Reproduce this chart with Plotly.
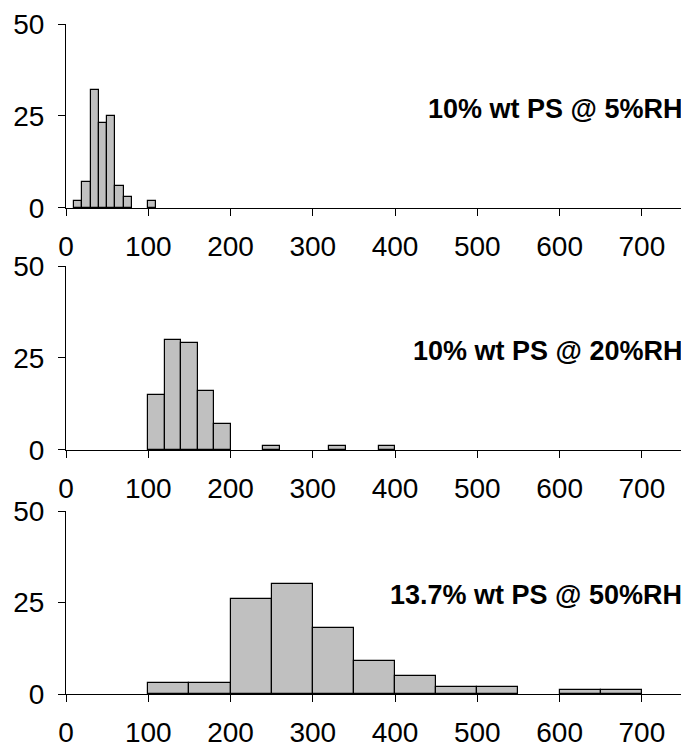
import plotly.graph_objects as go

# Panel 1: 10% wt PS @ 5%RH (bin width 10)
p1_left = [10, 20, 30, 40, 50, 60, 70, 100]
p1_count = [2, 7, 32, 23, 25, 6, 3, 2]
p1_width = 10

# Panel 2: 10% wt PS @ 20%RH (bin width 20)
p2_left = [100, 120, 140, 160, 180, 240, 320, 380]
p2_count = [15, 30, 29, 16, 7, 1, 1, 1]
p2_width = 20

# Panel 3: 13.7% wt PS @ 50%RH (bin width 50)
p3_left = [100, 150, 200, 250, 300, 350, 400, 450, 500, 600, 650]
p3_count = [3, 3, 26, 30, 18, 9, 5, 2, 2, 1, 1]
p3_width = 50

labels = ["10% wt PS @ 5%RH", "10% wt PS @ 20%RH", "13.7% wt PS @ 50%RH"]
x_ticks = [0, 100, 200, 300, 400, 500, 600, 700]
y_ticks = [0, 25, 50]

FONT = "Liberation Sans, Arial, sans-serif"

fig = go.Figure()
panels = [(p1_left, p1_count, p1_width), (p2_left, p2_count, p2_width), (p3_left, p3_count, p3_width)]
for i, (lefts, counts, w) in enumerate(panels):
    suf = "" if i == 0 else str(i + 1)
    fig.add_trace(go.Bar(
        x=lefts, y=counts, width=[w] * len(lefts), offset=0,
        marker=dict(color="#C0C0C0", line=dict(color="black", width=1.2)),
        xaxis="x" + suf, yaxis="y" + suf, showlegend=False,
    ))

domains = [[0.7254, 1.0], [0.3642, 0.6388], [0.0, 0.2731]]
for i in range(3):
    suf = "" if i == 0 else str(i + 1)
    fig.layout["xaxis" + suf] = dict(
        domain=[0, 1], range=[0, 750], anchor="y" + suf, automargin=False,
        tickvals=x_ticks, ticks="outside", ticklen=7, tickwidth=1, tickcolor="black",
        showline=True, linecolor="black", linewidth=1.2, showgrid=False, zeroline=False,
        tickfont=dict(family=FONT, size=28, color="black"), ticklabelstandoff=6,
    )
    fig.layout["yaxis" + suf] = dict(
        domain=domains[i], range=[0, 50], anchor="x" + suf, automargin=False,
        tickvals=y_ticks, ticks="outside", ticklen=7, tickwidth=1, tickcolor="black",
        showline=True, linecolor="black", linewidth=1.2, showgrid=False, zeroline=False,
        tickfont=dict(family=FONT, size=28, color="black"), ticklabelstandoff=8,
    )
    fig.add_annotation(
        text="<b>" + labels[i] + "</b>", xref="paper", yref="y" + suf,
        x=1.0, y=27, xanchor="right", yanchor="middle", showarrow=False,
        font=dict(family=FONT, size=27, color="black"), borderpad=0,
    )

# The page body has an 8px margin, so the figure is sized/offset to compensate.
fig.update_layout(
    width=681, height=739,
    margin=dict(l=58, r=6, t=16, b=53),
    paper_bgcolor="white", plot_bgcolor="white",
    bargap=0,
)

fig.write_html("out.html")
